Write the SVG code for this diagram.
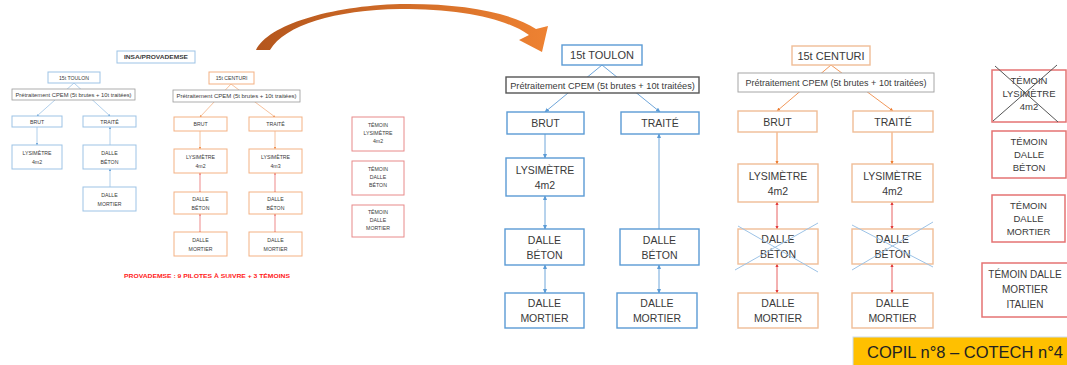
<svg xmlns="http://www.w3.org/2000/svg" width="1067" height="365" viewBox="0 0 1067 365">
<defs>
<linearGradient id="arcg" x1="0" y1="0" x2="1" y2="0">
<stop offset="0" stop-color="#b4561d"/>
<stop offset="1" stop-color="#ee8232"/>
</linearGradient>
<marker id="mb" viewBox="0 0 6 6" refX="5" refY="3" markerWidth="5" markerHeight="5" orient="auto-start-reverse"><path d="M0,0.5 L6,3 L0,5.5 Z" fill="#5b9bd5"/></marker>
<marker id="mo" viewBox="0 0 6 6" refX="5" refY="3" markerWidth="5" markerHeight="5" orient="auto-start-reverse"><path d="M0,0.5 L6,3 L0,5.5 Z" fill="#ed7d31"/></marker>
<marker id="mr" viewBox="0 0 6 6" refX="5" refY="3" markerWidth="5" markerHeight="5" orient="auto-start-reverse"><path d="M0,0.5 L6,3 L0,5.5 Z" fill="#e23b3b"/></marker>
<marker id="mbs" viewBox="0 0 6 6" refX="5" refY="3" markerWidth="3" markerHeight="3" orient="auto-start-reverse"><path d="M0,0.5 L6,3 L0,5.5 Z" fill="#5b9bd5"/></marker>
<marker id="mos" viewBox="0 0 6 6" refX="5" refY="3" markerWidth="3" markerHeight="3" orient="auto-start-reverse"><path d="M0,0.5 L6,3 L0,5.5 Z" fill="#ed7d31"/></marker>
<marker id="mrs" viewBox="0 0 6 6" refX="5" refY="3" markerWidth="3" markerHeight="3" orient="auto-start-reverse"><path d="M0,0.5 L6,3 L0,5.5 Z" fill="#e23b3b"/></marker>
</defs>
<style>
text{font-family:"Liberation Sans",Arial,sans-serif;fill:#3a3a3a;text-anchor:middle}
.b{fill:#fff;stroke:#5b9bd5;stroke-width:1.4}
.o{fill:#fff;stroke:#f0bd96;stroke-width:1.4}
.g{fill:#fff;stroke:#555;stroke-width:1.4}
.gl{fill:#fff;stroke:#a6a6a6;stroke-width:1}
.t{fill:#fff;stroke:#e57373;stroke-width:1.5}
.bs{fill:#fff;stroke:#9dc3e6;stroke-width:1}
.os{fill:#fff;stroke:#f4b183;stroke-width:1}
.ts{fill:#fff;stroke:#e88a8a;stroke-width:1}
.gs{fill:#fff;stroke:#999;stroke-width:0.8}
.cb{stroke:#6fa6da;stroke-width:1;fill:none}
.co{stroke:#ed7d31;stroke-width:0.8;fill:none}
.cr{stroke:#e23b3b;stroke-width:0.8;fill:none}
.cbs{stroke:#9dc3e6;stroke-width:0.8;fill:none}
.cos{stroke:#f4b183;stroke-width:0.8;fill:none}
.crs{stroke:#e23b3b;stroke-width:0.6;fill:none}
.x{stroke:#9dc3e6;stroke-width:1;fill:none}
.m{font-size:10.5px}
.s{font-size:5.2px}
</style>

<!-- big curved arrow -->
<g id="arc">
<path d="M256,50 C268,25 330,6 400,4 C460,3 510,12 536,29 L548,26 L542,52 L519,40 L529,35 C505,18 460,9 400,9 C335,10 285,25 270,50 Z" fill="url(#arcg)"/>
</g>

<!-- connectors -->
<g id="connectors">
<!-- mini toulon -->
<line class="cbs" x1="74" y1="83" x2="37" y2="116" marker-end="url(#mbs)"/>
<line class="cbs" x1="74" y1="83" x2="110" y2="116" marker-end="url(#mbs)"/>
<line class="cbs" x1="37" y1="127" x2="37" y2="145" marker-end="url(#mbs)"/>
<line class="cbs" x1="110" y1="145" x2="110" y2="127" marker-end="url(#mbs)"/>
<line class="cbs" x1="110" y1="187" x2="110" y2="169" marker-end="url(#mbs)"/>
<!-- mini centuri -->
<line class="cos" x1="231" y1="84" x2="200" y2="117" marker-end="url(#mos)"/>
<line class="cos" x1="231" y1="84" x2="275" y2="117" marker-end="url(#mos)"/>
<line class="cos" x1="200" y1="131" x2="200" y2="149" marker-end="url(#mos)"/>
<line class="cos" x1="275" y1="131" x2="275" y2="149" marker-end="url(#mos)"/>
<line class="crs" x1="200" y1="173" x2="200" y2="192" marker-start="url(#mrs)" marker-end="url(#mrs)"/>
<line class="crs" x1="275" y1="173" x2="275" y2="192" marker-start="url(#mrs)" marker-end="url(#mrs)"/>
<line class="crs" x1="200" y1="214" x2="200" y2="232" marker-start="url(#mrs)" marker-end="url(#mrs)"/>
<line class="crs" x1="275" y1="214" x2="275" y2="232" marker-start="url(#mrs)" marker-end="url(#mrs)"/>
<!-- big toulon -->
<line class="cb" x1="602" y1="65" x2="545" y2="112" marker-end="url(#mb)"/>
<line class="cb" x1="602" y1="65" x2="660" y2="112" marker-end="url(#mb)"/>
<line class="cb" x1="545" y1="134" x2="545" y2="158" marker-end="url(#mb)"/>
<line class="cb" x1="659" y1="229" x2="659" y2="134" marker-end="url(#mb)"/>
<line class="cb" x1="545" y1="196" x2="545" y2="229" marker-start="url(#mb)" marker-end="url(#mb)"/>
<line class="cb" x1="545" y1="265" x2="545" y2="293" marker-start="url(#mb)" marker-end="url(#mb)"/>
<line class="cb" x1="659" y1="265" x2="659" y2="293" marker-start="url(#mb)" marker-end="url(#mb)"/>
<!-- big centuri -->
<line class="co" x1="831" y1="65" x2="777" y2="111" marker-end="url(#mo)"/>
<line class="co" x1="831" y1="65" x2="893" y2="111" marker-end="url(#mo)"/>
<line class="co" x1="777" y1="132" x2="777" y2="164" marker-end="url(#mo)"/>
<line class="co" x1="892" y1="132" x2="892" y2="164" marker-end="url(#mo)"/>
<line class="cr" x1="777" y1="202" x2="777" y2="229" marker-start="url(#mr)" marker-end="url(#mr)"/>
<line class="cr" x1="892" y1="202" x2="892" y2="229" marker-start="url(#mr)" marker-end="url(#mr)"/>
<line class="cr" x1="777" y1="264" x2="777" y2="293" marker-start="url(#mr)" marker-end="url(#mr)"/>
<line class="cr" x1="892" y1="264" x2="892" y2="293" marker-start="url(#mr)" marker-end="url(#mr)"/>
</g>

<!-- mini diagram -->
<g id="mini-title"><rect class="bs" x="117" y="51" width="78" height="12"/><text class="s" x="156" y="59" font-weight="bold" textLength="64" lengthAdjust="spacingAndGlyphs">INSA/PROVADEMSE</text></g>
<g id="mini-toulon"><rect class="bs" x="48" y="72" width="52" height="11"/><text class="s" x="74" y="79.5">15t TOULON</text></g>
<g id="mini-pre1"><rect class="gs" x="12" y="89" width="123" height="11"/><text class="s" x="73.5" y="96.5" textLength="116" lengthAdjust="spacingAndGlyphs">Prétraitement CPEM (5t brutes + 10t traitées)</text></g>
<g id="mini-brut1"><rect class="bs" x="12" y="116" width="50" height="11"/><text class="s" x="37" y="123.5">BRUT</text></g>
<g id="mini-traite1"><rect class="bs" x="83" y="116" width="53" height="11"/><text class="s" x="109.5" y="123.5">TRAITÉ</text></g>
<g id="mini-lys1"><rect class="bs" x="12" y="145" width="50" height="24"/><text class="s" x="37" y="155">LYSIMÈTRE</text><text class="s" x="37" y="164">4m2</text></g>
<g id="mini-beton1"><rect class="bs" x="83" y="145" width="53" height="24"/><text class="s" x="109.5" y="155">DALLE</text><text class="s" x="109.5" y="164">BÉTON</text></g>
<g id="mini-mortier1"><rect class="bs" x="83" y="187" width="53" height="24"/><text class="s" x="109.5" y="197">DALLE</text><text class="s" x="109.5" y="206">MORTIER</text></g>

<g id="mini-centuri"><rect class="os" x="209" y="72" width="45" height="12"/><text class="s" x="231.5" y="80">15t CENTURI</text></g>
<g id="mini-pre2"><rect class="gs" x="173" y="90" width="127" height="12"/><text class="s" x="236.5" y="98" textLength="120" lengthAdjust="spacingAndGlyphs">Prétraitement CPEM (5t brutes + 10t traitées)</text></g>
<g id="mini-brut2"><rect class="os" x="174" y="117" width="53" height="14"/><text class="s" x="200.5" y="125.5">BRUT</text></g>
<g id="mini-traite2"><rect class="os" x="249" y="117" width="53" height="14"/><text class="s" x="275.5" y="125.5">TRAITÉ</text></g>
<g id="mini-lys2"><rect class="os" x="174" y="149" width="53" height="24"/><text class="s" x="200.5" y="159">LYSIMÈTRE</text><text class="s" x="200.5" y="168">4m2</text></g>
<g id="mini-lys3"><rect class="os" x="249" y="149" width="53" height="24"/><text class="s" x="275.5" y="159">LYSIMÈTRE</text><text class="s" x="275.5" y="168">4m3</text></g>
<g id="mini-beton2"><rect class="os" x="174" y="192" width="53" height="22"/><text class="s" x="200.5" y="201">DALLE</text><text class="s" x="200.5" y="210">BÉTON</text></g>
<g id="mini-beton3"><rect class="os" x="249" y="192" width="53" height="22"/><text class="s" x="275.5" y="201">DALLE</text><text class="s" x="275.5" y="210">BÉTON</text></g>
<g id="mini-mortier2"><rect class="os" x="174" y="232" width="53" height="24"/><text class="s" x="200.5" y="242">DALLE</text><text class="s" x="200.5" y="251">MORTIER</text></g>
<g id="mini-mortier3"><rect class="os" x="249" y="232" width="53" height="24"/><text class="s" x="275.5" y="242">DALLE</text><text class="s" x="275.5" y="251">MORTIER</text></g>
<g id="mini-note"><text x="207" y="278" font-size="5.5" font-weight="bold" style="fill:#ff2020" textLength="166" lengthAdjust="spacingAndGlyphs">PROVADEMSE : 9 PILOTES À SUIVRE + 3 TÉMOINS</text></g>

<g id="mini-tem1"><rect class="ts" x="352" y="117" width="52" height="34"/><text class="s" x="378" y="127">TÉMOIN</text><text class="s" x="378" y="135">LYSIMÈTRE</text><text class="s" x="378" y="143">4m2</text></g>
<g id="mini-tem2"><rect class="ts" x="352" y="161" width="52" height="34"/><text class="s" x="378" y="171">TÉMOIN</text><text class="s" x="378" y="179">DALLE</text><text class="s" x="378" y="187">BÉTON</text></g>
<g id="mini-tem3"><rect class="ts" x="352" y="205" width="52" height="32"/><text class="s" x="378" y="214">TÉMOIN</text><text class="s" x="378" y="222">DALLE</text><text class="s" x="378" y="230">MORTIER</text></g>

<!-- big toulon -->
<g id="toulon"><rect class="b" x="562" y="45" width="80" height="20"/><text x="602" y="59" font-size="11">15t TOULON</text></g>
<g id="pre-toulon"><rect class="g" x="506" y="77" width="193" height="16"/><text x="602.5" y="88.5" font-size="9.2">Prétraitement CPEM (5t brutes + 10t traitées)</text></g>
<g id="brut-t"><rect class="b" x="507" y="112" width="77" height="22"/><text class="m" x="545.5" y="127">BRUT</text></g>
<g id="traite-t"><rect class="b" x="621" y="112" width="78" height="22"/><text class="m" x="660" y="127">TRAITÉ</text></g>
<g id="lys-t"><rect class="b" x="506" y="158" width="78" height="38"/><text class="m" x="545" y="174">LYSIMÈTRE</text><text class="m" x="545" y="189">4m2</text></g>
<g id="beton-t1"><rect class="b" x="505" y="229" width="79" height="36"/><text class="m" x="544.5" y="244">DALLE</text><text class="m" x="544.5" y="259">BÉTON</text></g>
<g id="beton-t2"><rect class="b" x="620" y="229" width="79" height="36"/><text class="m" x="659.5" y="244">DALLE</text><text class="m" x="659.5" y="259">BÉTON</text></g>
<g id="mortier-t1"><rect class="b" x="505" y="293" width="79" height="35"/><text class="m" x="544.5" y="307">DALLE</text><text class="m" x="544.5" y="322">MORTIER</text></g>
<g id="mortier-t2"><rect class="b" x="617" y="293" width="80" height="35"/><text class="m" x="657" y="307">DALLE</text><text class="m" x="657" y="322">MORTIER</text></g>

<!-- big centuri -->
<g id="centuri"><rect class="o" x="792" y="46" width="78" height="19"/><text x="831" y="59.5" font-size="11">15t CENTURI</text></g>
<g id="pre-centuri"><rect class="gl" x="738" y="73" width="196" height="19"/><text x="836" y="86" font-size="9">Prétraitement CPEM (5t brutes + 10t traitées)</text></g>
<g id="brut-c"><rect class="o" x="738" y="111" width="79" height="21"/><text class="m" x="777.5" y="125.5">BRUT</text></g>
<g id="traite-c"><rect class="o" x="853" y="111" width="80" height="21"/><text class="m" x="893" y="125.5">TRAITÉ</text></g>
<g id="lys-c1"><rect class="o" x="738" y="164" width="80" height="38"/><text class="m" x="778" y="180">LYSIMÈTRE</text><text class="m" x="778" y="195">4m2</text></g>
<g id="lys-c2"><rect class="o" x="852" y="164" width="81" height="38"/><text class="m" x="892.5" y="180">LYSIMÈTRE</text><text class="m" x="892.5" y="195">4m2</text></g>
<g id="beton-c1"><rect class="o" x="738" y="229" width="80" height="35"/><text class="m" x="778" y="243">DALLE</text><text class="m" x="778" y="258">BÉTON</text><path class="x" d="M738,226 L818,272 M735,270 L818,223"/></g>
<g id="beton-c2"><rect class="o" x="852" y="229" width="81" height="35"/><text class="m" x="892.5" y="243">DALLE</text><text class="m" x="892.5" y="258">BÉTON</text><path class="x" d="M852,225 L933,267 M852,270 L933,222"/></g>
<g id="mortier-c1"><rect class="o" x="738" y="293" width="80" height="35"/><text class="m" x="778" y="307">DALLE</text><text class="m" x="778" y="322">MORTIER</text></g>
<g id="mortier-c2"><rect class="o" x="852" y="293" width="81" height="35"/><text class="m" x="892.5" y="307">DALLE</text><text class="m" x="892.5" y="322">MORTIER</text></g>

<!-- témoins -->
<g id="tem-lys"><rect class="t" x="992" y="70" width="74" height="52"/><text x="1029" y="84" font-size="9.5">TÉMOIN</text><text x="1029" y="97" font-size="9.5">LYSIMÈTRE</text><text x="1029" y="110" font-size="9.5">4m2</text><path d="M995,66 L1058,122 M1057,65 L993,121" stroke="#555" stroke-width="1" fill="none"/></g>
<g id="tem-beton"><rect class="t" x="992" y="131" width="74" height="47"/><text x="1029" y="145" font-size="9.5">TÉMOIN</text><text x="1029" y="158" font-size="9.5">DALLE</text><text x="1029" y="171" font-size="9.5">BÉTON</text></g>
<g id="tem-mortier"><rect class="t" x="992" y="195" width="73" height="47"/><text x="1028.5" y="209" font-size="9.5">TÉMOIN</text><text x="1028.5" y="222" font-size="9.5">DALLE</text><text x="1028.5" y="235" font-size="9.5">MORTIER</text></g>
<g id="tem-italien"><rect class="t" x="982" y="263" width="90" height="54"/><text x="1025" y="278" font-size="10">TÉMOIN DALLE</text><text x="1025" y="293" font-size="10">MORTIER</text><text x="1025" y="308" font-size="10">ITALIEN</text></g>

<!-- banner -->
<g id="banner"><rect x="853" y="337" width="220" height="30" fill="#ffc000" stroke="#c9dcef" stroke-width="1"/><text x="867" y="358" font-size="16.5" style="text-anchor:start;fill:#222">COPIL n°8 – COTECH n°4</text></g>
</svg>
